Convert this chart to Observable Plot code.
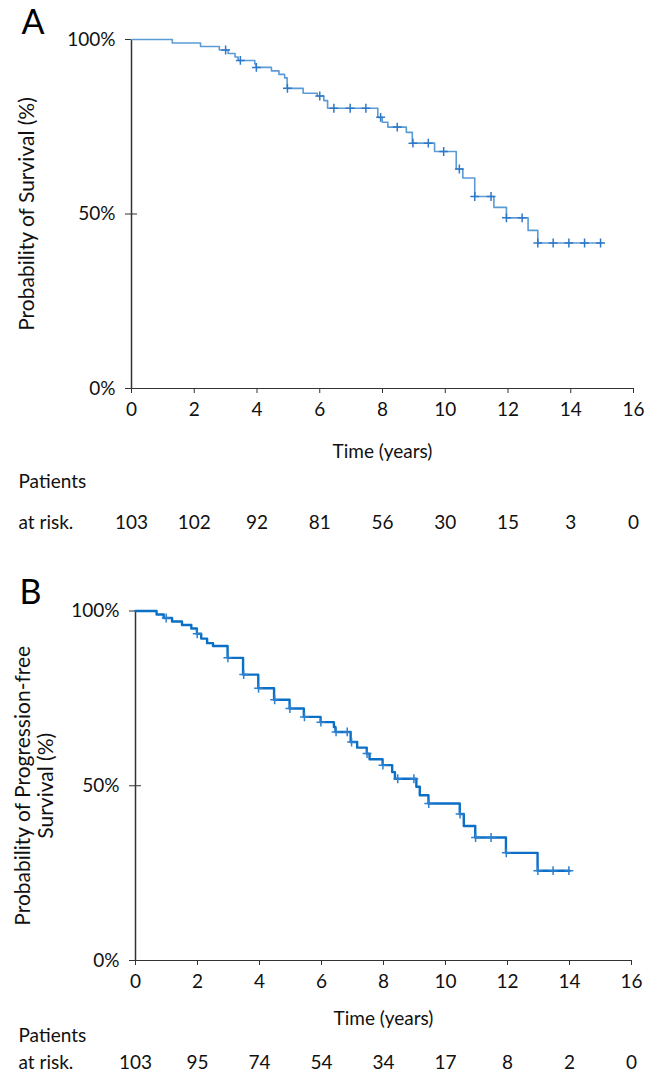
<!DOCTYPE html>
<html>
<head>
<meta charset="utf-8">
<script src="https://cdn.jsdelivr.net/npm/d3@7"></script>
<script src="https://cdn.jsdelivr.net/npm/@observablehq/plot@0.6"></script>
<style>
  html, body { margin: 0; padding: 0; background: #fff; }
  #wrap { position: relative; width: 661px; height: 1074px; overflow: hidden; font-family: Lato, "Open Sans", sans-serif; }
  .panel { position: absolute; left: 0; }
</style>
</head>
<body>
<div id="wrap">
  <div id="pa" class="panel" style="top:0px"></div>
  <div id="pb" class="panel" style="top:540px"></div>
</div>
<script>
// ---- Data ----
const xTicks = [0, 2, 4, 6, 8, 10, 12, 14, 16];
const yTicks = [0, 50, 100];

// Panel A: overall survival
const aEventTime = [1.30, 2.20, 2.80, 3.08, 3.30, 3.40, 3.93, 3.97, 4.46, 4.70, 4.88, 4.96, 5.47, 5.92, 6.13, 6.25, 7.85, 7.99, 8.17, 8.76, 8.95, 9.66, 10.35, 10.56, 10.94, 11.55, 11.95, 12.64, 12.95];
const aEventSurv = [99.0, 98.0, 97.0, 96.0, 95.0, 94.0, 93.0, 92.0, 91.0, 90.0, 89.0, 86.0, 84.6, 83.8, 82.5, 80.3, 77.7, 76.3, 74.9, 73.4, 70.3, 67.9, 62.9, 60.3, 55.0, 51.9, 48.9, 45.3, 41.7];
const aCensor = [3.0, 3.47, 3.98, 4.97, 6.0, 6.45, 6.97, 7.47, 7.94, 8.47, 8.97, 9.46, 9.95, 10.45, 10.94, 11.46, 11.95, 12.45, 12.95, 13.44, 13.94, 14.44, 14.95];
const aEnd = 15.0;
const aAtRisk = [103, 102, 92, 81, 56, 30, 15, 3, 0];

// Panel B: progression-free survival
const bEventTime = [0.68, 0.91, 1.18, 1.50, 1.80, 1.98, 2.12, 2.31, 2.50, 2.97, 3.47, 3.96, 4.47, 4.97, 5.43, 5.97, 6.40, 6.45, 6.94, 7.15, 7.46, 7.55, 7.97, 8.28, 8.37, 9.06, 9.17, 9.45, 10.46, 10.59, 10.96, 11.95, 12.97];
const bEventSurv = [99.0, 98.0, 97.0, 96.0, 95.0, 93.5, 92.1, 90.8, 90.0, 86.6, 81.8, 77.9, 74.6, 72.1, 69.7, 68.2, 66.8, 65.4, 62.5, 60.9, 59.2, 57.6, 55.9, 53.9, 52.0, 49.7, 47.3, 44.9, 41.9, 38.5, 35.2, 30.8, 25.7];
const bCensor = [0.99, 1.99, 2.98, 3.49, 3.97, 4.49, 4.98, 5.45, 5.98, 6.47, 6.83, 6.97, 7.47, 7.98, 8.46, 8.98, 9.46, 10.47, 10.97, 11.47, 11.96, 12.98, 13.47, 13.98];
const bEnd = 14.0;
const bAtRisk = [103, 95, 74, 54, 34, 17, 8, 2, 0];

// ---- Helpers ----
function stepData(times, surv, end) {
  const pts = [{t: 0, s: 100}];
  times.forEach((t, i) => pts.push({t, s: surv[i]}));
  pts.push({t: end, s: surv[surv.length - 1]});
  return pts;
}
function censorData(censor, times, surv) {
  return censor.map(c => {
    let s = 100;
    times.forEach((t, i) => { if (t <= c) s = surv[i]; });
    return {t: c, s};
  });
}
const cross = {
  draw(ctx, size) {
    const r = Math.sqrt(size) / 2;
    ctx.moveTo(-r, 0); ctx.lineTo(r, 0);
    ctx.moveTo(0, -r); ctx.lineTo(0, r);
  }
};
const FONT = "Lato, 'Open Sans', sans-serif";
const FS = 19;

function panel(opts) {
  const {letter, ylabel, times, surv, censor, end, atRisk, lineColor, markColor, lineWidth,
         height, mTop, mBottom, mLeft, mRight, yLabelDx, riskDy, patientsDy, timeDy, letterDy, letterDx} = opts;
  const steps = stepData(times, surv, end);
  const cens = censorData(censor, times, surv);
  const risk = atRisk.map((n, i) => ({t: xTicks[i], n}));
  const txt = {fontSize: FS, fill: "#111", lineAnchor: "middle"};
  return Plot.plot({
    width: 661,
    height,
    marginTop: mTop, marginBottom: mBottom, marginLeft: mLeft, marginRight: mRight,
    style: {fontFamily: FONT, fontSize: FS + "px", color: "#111", background: "#fff", overflow: "visible"},
    x: {domain: [0, 16], ticks: xTicks},
    y: {domain: [0, 100], ticks: yTicks},
    marks: [
      Plot.axisX({ticks: xTicks, tickSize: 5, tickPadding: 9, fontSize: FS, label: null, stroke: "#333", fill: "#111"}),
      Plot.axisY({ticks: yTicks, tickSize: 6, tickPadding: 10, fontSize: FS, label: null, tickFormat: d => d + "%", stroke: "#333", fill: "#111"}),
      Plot.axisY({ticks: yTicks, tickSize: -6, text: null, label: null, stroke: "#333"}),
      Plot.ruleX([0], {stroke: "#333", strokeWidth: 1.5}),
      Plot.ruleY([0], {stroke: "#333", strokeWidth: 1.2}),
      Plot.line(steps, {x: "t", y: "s", curve: "step-after", stroke: lineColor, strokeWidth: lineWidth}),
      Plot.dot(cens, {x: "t", y: "s", symbol: cross, r: 5, stroke: markColor, strokeWidth: 1.5, fill: "none"}),
      Plot.text([ylabel], {...txt, fontSize: 21, frameAnchor: "left", textAnchor: "middle", dx: yLabelDx, rotate: -90, lineHeight: 1.1}),
      Plot.text(["Time (years)"], {...txt, frameAnchor: "bottom", dy: timeDy}),
      Plot.text(["Patients"], {...txt, frameAnchor: "bottom-left", dx: 18 - mLeft, dy: patientsDy, textAnchor: "start"}),
      Plot.text(["at risk."], {...txt, frameAnchor: "bottom-left", dx: 18 - mLeft, dy: riskDy, textAnchor: "start"}),
      Plot.text(risk, {...txt, x: "t", text: "n", frameAnchor: "bottom", dy: riskDy}),
      Plot.text([letter], {frameAnchor: "top-left", textAnchor: "start", lineAnchor: "middle", dx: letterDx, dy: letterDy, fontSize: 34, fill: "#000"})
    ]
  });
}

document.getElementById("pa").appendChild(panel({
  letter: "A", ylabel: "Probability of Survival (%)",
  times: aEventTime, surv: aEventSurv, censor: aCensor, end: aEnd, atRisk: aAtRisk,
  lineColor: "#5b9bd5", markColor: "#2e78c8", lineWidth: 1.6,
  height: 540, mTop: 39, mBottom: 152, mLeft: 131, mRight: 28,
  yLabelDx: -105, riskDy: 134, patientsDy: 93, timeDy: 63, letterDx: -110, letterDy: -16
}));
document.getElementById("pb").appendChild(panel({
  letter: "B", ylabel: "Probability of Progression-free\nSurvival (%)",
  times: bEventTime, surv: bEventSurv, censor: bCensor, end: bEnd, atRisk: bAtRisk,
  lineColor: "#0b6fc6", markColor: "#2e80d0", lineWidth: 2.4,
  height: 534, mTop: 70.5, mBottom: 114, mLeft: 135, mRight: 30,
  yLabelDx: -101, riskDy: 102, patientsDy: 75, timeDy: 58, letterDx: -116, letterDy: -18
}));
</script>
</body>
</html>
